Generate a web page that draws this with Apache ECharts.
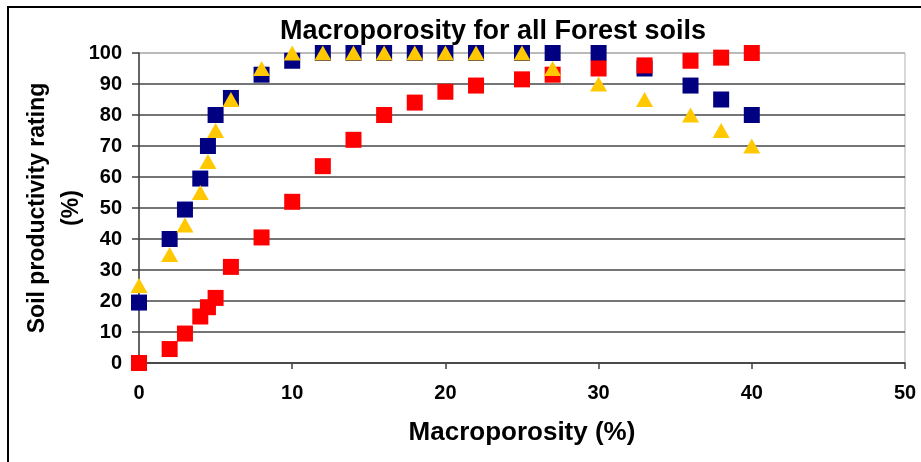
<!DOCTYPE html>
<html>
<head>
<meta charset="utf-8">
<script src="https://cdn.jsdelivr.net/npm/echarts@6/dist/echarts.min.js"></script>
<style>
html,body{margin:0;padding:0;background:#fff;}
#chart{width:921px;height:462px;}
</style>
</head>
<body>
<div id="chart"></div>
<script>
// Data
var titleText = 'Macroporosity for all Forest soils';
var xAxisTitle = 'Macroporosity (%)';
var yAxisTitle = 'Soil productivity rating\n(%)';

var macroBlue   = [0, 2, 3, 4, 4.5, 5, 6, 8, 10, 12, 14, 16, 18, 20, 22, 25, 27, 30, 33, 36, 38, 40];
var ratingBlue  = [19.5, 40, 49.5, 59.5, 70, 80, 85.5, 93, 97.5, 100, 100, 100, 100, 100, 100, 100, 100, 100, 95, 89.5, 85, 80];

var macroRed    = [0, 2, 3, 4, 4.5, 5, 6, 8, 10, 12, 14, 16, 18, 20, 22, 25, 27, 30, 33, 36, 38, 40];
var ratingRed   = [0, 4.5, 9.5, 15, 18, 21, 31, 40.5, 52, 63.5, 72, 80, 84, 87.5, 89.5, 91.5, 93, 95, 96, 97.5, 98.5, 100];

var macroYellow = [0, 2, 3, 4, 4.5, 5, 6, 8, 10, 12, 14, 16, 18, 20, 22, 25, 27, 30, 33, 36, 38, 40];
var ratingYellow= [25, 35, 44.5, 55, 65, 75, 85, 95, 100, 100, 100, 100, 100, 100, 100, 100, 95, 90, 85, 80, 75, 70];

function pairs(xs, ys){ return xs.map(function(x,i){ return [x, ys[i]]; }); }

var FONT = '"Liberation Sans", Arial, sans-serif';
var chart = echarts.init(document.getElementById('chart'), null, {renderer:'canvas'});

var gridColors = [];
for (var i = 0; i < 11; i++) gridColors.push(i === 10 ? '#b0b0b0' : '#474747');

chart.setOption({
  animation: false,
  backgroundColor: '#ffffff',
  title: {
    text: titleText,
    left: 488, top: 13,
    textAlign: 'center',
    textStyle: {fontFamily: FONT, fontWeight: 'bold', fontSize: 27, color: '#000'}
  },
  graphic: [{
    type: 'rect',
    shape: {x: 8, y: 7, width: 1000, height: 1000},
    style: {fill: 'none', stroke: '#000', lineWidth: 2},
    silent: true
  }],
  grid: {
    left: 139, top: 53, right: 16, bottom: 99,
    show: true, borderColor: '#b0b0b0', borderWidth: 1, backgroundColor: 'transparent'
  },
  xAxis: {
    type: 'value', min: 0, max: 50, interval: 10,
    name: xAxisTitle, nameLocation: 'middle', nameGap: 57, nameMoveOverlap: false,
    nameTextStyle: {fontFamily: FONT, fontWeight: 'bold', fontSize: 26, color: '#000'},
    axisLine: {show: true, lineStyle: {color: '#404040', width: 1.5}},
    axisTick: {show: true, inside: false, length: 6, lineStyle: {color: '#404040', width: 1.5}},
    axisLabel: {margin: 20, fontFamily: FONT, fontWeight: 'bold', fontSize: 20, color: '#000'},
    splitLine: {show: false}
  },
  yAxis: {
    type: 'value', min: 0, max: 100, interval: 10,
    name: yAxisTitle, nameLocation: 'middle', nameGap: 50, nameRotate: 90, nameMoveOverlap: false,
    nameTextStyle: {fontFamily: FONT, fontWeight: 'bold', fontSize: 23, color: '#000', lineHeight: 34, align: 'center'},
    axisLine: {show: true, lineStyle: {color: '#404040', width: 1.5}},
    axisTick: {show: true, inside: false, length: 7, lineStyle: {color: '#404040', width: 1.5}},
    axisLabel: {margin: 17, fontFamily: FONT, fontWeight: 'bold', fontSize: 20, color: '#000'},
    splitLine: {show: true, lineStyle: {color: gridColors, width: 1.5}}
  },
  series: [
    {
      name: 'Blue', type: 'scatter', symbol: 'rect', symbolSize: 16,
      itemStyle: {color: '#000080', opacity: 1},
      data: pairs(macroBlue, ratingBlue), z: 2
    },
    {
      name: 'Red', type: 'scatter', symbol: 'rect', symbolSize: 16,
      itemStyle: {color: '#ff0000', opacity: 1},
      data: pairs(macroRed, ratingRed), z: 3
    },
    {
      name: 'Yellow', type: 'scatter', symbol: 'triangle', symbolSize: [17, 15],
      itemStyle: {color: '#ffc800', opacity: 1},
      data: pairs(macroYellow, ratingYellow), z: 4
    }
  ]
});
</script>
</body>
</html>
